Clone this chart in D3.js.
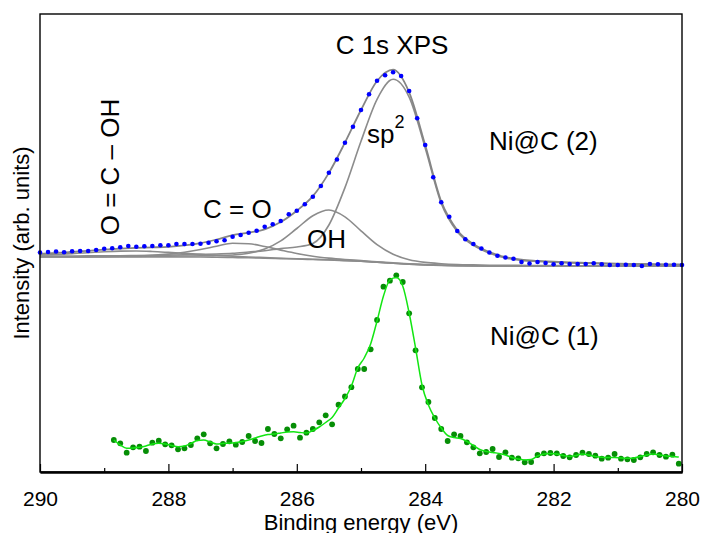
<!DOCTYPE html>
<html>
<head>
<meta charset="utf-8">
<script src="https://cdn.jsdelivr.net/npm/d3@7/dist/d3.min.js"></script>
<style>
  html, body { margin: 0; padding: 0; background: #fff; }
  svg { display: block; }
  text { font-family: "Liberation Sans", Arial, Helvetica, sans-serif; fill: #000; }
</style>
</head>
<body>
<svg id="chart" width="701" height="533"></svg>
<script>
// ---- Ni@C (2): measured C 1s points (binding energy, intensity in arb. units)
const ni2Energy = [290, 289.875, 289.75, 289.625, 289.5, 289.375, 289.25, 289.125, 289, 288.875,
  288.75, 288.625, 288.5, 288.375, 288.25, 288.125, 288, 287.875, 287.75, 287.625,
  287.5, 287.375, 287.25, 287.125, 287, 286.875, 286.75, 286.625, 286.5, 286.375,
  286.25, 286.125, 286, 285.875, 285.75, 285.625, 285.5, 285.375, 285.25, 285.125,
  285, 284.875, 284.75, 284.625, 284.5, 284.375, 284.25, 284.125, 284, 283.875,
  283.75, 283.625, 283.5, 283.375, 283.25, 283.125, 283, 282.875, 282.75, 282.625,
  282.5, 282.375, 282.25, 282.125, 282, 281.875, 281.75, 281.625, 281.5, 281.375,
  281.25, 281.125, 281, 280.875, 280.75, 280.625, 280.5, 280.375, 280.25, 280.125, 280];
const ni2Counts = [219.5, 220, 220.5, 219.7, 220.7, 221, 221, 222, 223.3, 223.7,
  224.7, 226, 225.3, 225.7, 226, 226.7, 226.7, 228, 228, 228,
  228.3, 229.3, 230.7, 231.7, 235.3, 237, 239.3, 241.3, 245.3, 247.7,
  251, 257.7, 261.3, 267.7, 275.3, 286, 299.3, 312.5, 329.3, 345.3,
  362, 377.7, 391.3, 396.7, 399.8, 396, 381, 353.7, 327, 294.7,
  269.7, 255.3, 241, 232.7, 228, 223.5, 219.5, 216.3, 214.5, 213.2,
  210, 208.5, 210, 209, 207.7, 208.7, 208, 208, 208, 208.7,
  207.7, 207, 207, 207.3, 207, 206, 208, 207.7, 207.3, 207.3, 207];

// ---- Ni@C (2): peak fit, sampled on a common energy grid
const fitEnergy = [290, 289.75, 289.5, 289.25, 289, 288.75, 288.5, 288.25, 288, 287.75,
  287.5, 287.25, 287, 286.75, 286.5, 286.25, 286, 285.75, 285.5, 285.25,
  285, 284.75, 284.5, 284.25, 284, 283.75, 283.5, 283.25, 283, 282.75,
  282.5, 282.25, 282, 281.75, 281.5, 281.25, 281, 280.75, 280.5, 280.25, 280];
// Shirley-type background
const background = [215, 215, 215, 215, 215, 215, 215, 215, 215, 215,
  215, 214.8, 214.5, 214.2, 213.8, 213.4, 213, 212.5, 212, 211.4,
  210.7, 209.7, 208.7, 207.8, 207.1, 206.6, 206.3, 206.1, 206, 206,
  206, 206, 206, 206, 206, 206, 206, 206, 206, 206, 206];
// component heights above the background
const peakSp2 = [0.8, 0.9, 1.0, 1.1, 1.2, 1.3, 1.5, 1.7, 1.9, 2.2,
  2.6, 3.2, 4.2, 5.8, 7.5, 10, 12, 16, 35, 73,
  120, 163, 184, 167, 117, 62, 34, 20.5, 12.8, 8,
  5.5, 4.5, 3.7, 3.1, 2.7, 2.3, 2.0, 1.8, 1.6, 1.4, 1.3];
const peakOH = [0.3, 0.3, 0.3, 0.4, 0.4, 0.5, 0.6, 0.7, 0.8, 1.0,
  1.2, 1.7, 2.5, 4.5, 9.1, 17.7, 30.5, 43.8, 50, 43.8,
  30.5, 17.7, 9.1, 4.5, 2.5, 1.7, 1.2, 1.0, 0.8, 0.7,
  0.6, 0.5, 0.4, 0.3, 0.3, 0.3, 0.2, 0.2, 0.2, 0.2, 0.2];
const peakCO = [0.2, 0.25, 0.3, 0.4, 0.5, 0.7, 1.0, 1.7, 2.9, 4.8,
  7.5, 11, 14.3, 14.1, 11.7, 8.5, 5.5, 3.3, 1.9, 1.1,
  0.7, 0.5, 0.4, 0.3, 0.25, 0.22, 0.2, 0.18, 0.16, 0.15,
  0.14, 0.13, 0.12, 0.11, 0.1, 0.1, 0.09, 0.09, 0.08, 0.08, 0.08];
const peakOCOH = [1.7, 2.5, 3.4, 4.3, 5.3, 5.9, 6.0, 5.5, 4.6, 3.6,
  2.6, 1.8, 1.3, 0.8, 0.6, 0.4, 0.3, 0.2, 0.2, 0.15,
  0.13, 0.12, 0.11, 0.1, 0.1, 0.1, 0.1, 0.09, 0.09, 0.08,
  0.08, 0.07, 0.07, 0.07, 0.06, 0.06, 0.06, 0.06, 0.05, 0.05, 0.05];
// cumulative fit envelope
const envelope = [218.0, 219.0, 220.0, 221.2, 222.4, 223.4, 224.1, 224.6, 225.2, 226.6,
  228.9, 232.5, 236.8, 239.4, 242.7, 250.0, 261.3, 275.8, 299.1, 329.4,
  362.0, 391.0, 402.3, 379.7, 326.9, 270.6, 241.8, 227.9, 219.8, 214.9,
  212.3, 211.2, 210.3, 209.6, 209.2, 208.8, 208.3, 208.1, 207.9, 207.7, 207.6];

// ---- Ni@C (1): measured points and smoothed trace
const ni1Energy = [288.85, 288.75, 288.65, 288.55, 288.45, 288.35, 288.25, 288.15, 288.05, 287.95,
  287.85, 287.75, 287.65, 287.55, 287.45, 287.35, 287.25, 287.15, 287.05, 286.95,
  286.85, 286.75, 286.65, 286.55, 286.45, 286.35, 286.25, 286.15, 286.05, 285.95,
  285.85, 285.75, 285.65, 285.55, 285.45, 285.35, 285.25, 285.15, 285.05, 284.95,
  284.85, 284.75, 284.65, 284.55, 284.45, 284.35, 284.25, 284.15, 284.05, 283.95,
  283.85, 283.75, 283.65, 283.55, 283.45, 283.35, 283.25, 283.15, 283.05, 282.95,
  282.85, 282.75, 282.65, 282.55, 282.45, 282.35, 282.25, 282.15, 282.05, 281.95,
  281.85, 281.75, 281.65, 281.55, 281.45, 281.35, 281.25, 281.15, 281.05, 280.95,
  280.85, 280.75, 280.65, 280.55, 280.45, 280.35, 280.25, 280.15, 280.05];
const ni1Counts = [32, 28.7, 19.3, 24.7, 25.3, 21, 29.3, 31.3, 27.7, 26.7,
  22.7, 23.7, 27, 33.7, 37.7, 28.7, 23.7, 28, 30.7, 27.3,
  30, 36, 31, 29, 43, 38, 33.7, 42.7, 46.3, 34.3,
  39.3, 43, 49.7, 56.7, 47.7, 67.3, 75.5, 84.8, 103, 103,
  122.7, 152, 185.3, 191.3, 196.7, 190, 158.7, 121.7, 84.7, 70,
  54, 43, 31, 37.7, 36, 29.7, 24.7, 18.7, 20, 23,
  15, 19.7, 14.3, 13.7, 9.7, 10, 17, 18.7, 19, 18.7,
  16, 14.7, 17, 19.3, 18, 16.3, 13.3, 14.3, 18, 13.3,
  12.7, 12, 14.7, 18, 19.7, 17, 15.3, 17.3, 8.3];
const ni1Smooth = [32, 27, 23.7, 24, 24.7, 26, 28, 28.7, 28, 26.5,
  25.3, 26, 28.5, 31.5, 32, 30, 28, 28.5, 29, 29.3,
  30.5, 32, 34, 36, 37.5, 38, 39, 40, 40.3, 39.5,
  39, 41.5, 45, 49.5, 54.5, 64, 73.5, 86, 104, 114,
  128, 151, 176, 192, 194.5, 186, 159, 124, 87, 67,
  54, 44, 36.5, 34.5, 33.5, 30.5, 26.5, 22.5, 20.5, 19.5,
  18.5, 17, 14.5, 13, 12, 12.5, 16, 18, 18.5, 18,
  16.5, 15.5, 16.5, 18, 17, 15.5, 14.7, 14.5, 14.5, 14,
  13.7, 14, 15.5, 17, 18, 17, 16, 15.5, 15];

// ---- axis ticks
const xMajorTicks = [290, 288, 286, 284, 282, 280];
const xMinorTicks = [289, 287, 285, 283, 281];

// ---- layout
const plot = { left: 40, right: 682, top: 14, bottom: 472 };
const svg = d3.select("#chart");

const x = d3.scaleLinear().domain([290, 280]).range([plot.left, plot.right]);
const y = d3.scaleLinear().domain([0, 458]).range([plot.bottom, plot.top]);

const lineGen = d3.line()
  .x(d => x(d[0]))
  .y(d => y(d[1]))
  .curve(d3.curveMonotoneX);

const fitGroup = svg.append("g").attr("class", "fit");

// background and components (each sits on the background)
const components = [peakOCOH, peakCO, peakOH, peakSp2];
fitGroup.append("path")
  .datum(fitEnergy.map((e, i) => [e, background[i]]))
  .attr("d", lineGen)
  .attr("fill", "none").attr("stroke", "#8c8c8c").attr("stroke-width", 1.6);
components.forEach(comp => {
  fitGroup.append("path")
    .datum(fitEnergy.map((e, i) => [e, background[i] + comp[i]]))
    .attr("d", lineGen)
    .attr("fill", "none").attr("stroke", "#8c8c8c").attr("stroke-width", 1.6);
});
fitGroup.append("path")
  .datum(fitEnergy.map((e, i) => [e, envelope[i]]))
  .attr("d", lineGen)
  .attr("fill", "none").attr("stroke", "#858585").attr("stroke-width", 1.8);

// Ni@C (2) points
svg.append("g").selectAll("circle")
  .data(ni2Energy.map((e, i) => [e, ni2Counts[i]]))
  .join("circle")
  .attr("cx", d => x(d[0]))
  .attr("cy", d => y(d[1]))
  .attr("r", 2.3)
  .attr("fill", "#0000ff");

// Ni@C (1) points and smoothed trace
svg.append("g").selectAll("circle")
  .data(ni1Energy.map((e, i) => [e, ni1Counts[i]]))
  .join("circle")
  .attr("cx", d => x(d[0]))
  .attr("cy", d => y(d[1]))
  .attr("r", 2.9)
  .attr("fill", "#068e06");
svg.append("path")
  .datum(ni1Energy.map((e, i) => [e, ni1Smooth[i]]))
  .attr("d", lineGen)
  .attr("fill", "none").attr("stroke", "#12e612").attr("stroke-width", 1.5);

// frame
svg.append("rect")
  .attr("x", plot.left).attr("y", plot.top)
  .attr("width", plot.right - plot.left).attr("height", plot.bottom - plot.top)
  .attr("fill", "none").attr("stroke", "#000").attr("stroke-width", 1.4);

// bottom axis: inward ticks
const axisG = svg.append("g").attr("transform", `translate(0,${plot.bottom})`);
axisG.call(d3.axisBottom(x).tickValues(xMajorTicks).tickSize(-8).tickSizeOuter(0)
  .tickPadding(19).tickFormat(d3.format("d")));
const minorG = svg.append("g").attr("transform", `translate(0,${plot.bottom})`);
minorG.call(d3.axisBottom(x).tickValues(xMinorTicks).tickSize(-4).tickSizeOuter(0).tickFormat(""));
[axisG, minorG].forEach(g => {
  g.select(".domain").attr("stroke", "#000").attr("stroke-width", 1.8);
  g.selectAll(".tick line").attr("stroke", "#000").attr("stroke-width", 1.2);
});
axisG.selectAll(".tick text")
  .style("font-family", '"Liberation Sans", Arial, sans-serif')
  .style("font-size", "21px").attr("fill", "#000");

// axis titles
svg.append("text")
  .attr("x", (plot.left + plot.right) / 2).attr("y", 530)
  .attr("text-anchor", "middle").style("font-size", "22px")
  .text("Binding energy (eV)");
svg.append("text")
  .attr("transform", "translate(29,243) rotate(-90)")
  .attr("text-anchor", "middle").style("font-size", "22px")
  .text("Intensity (arb. units)");

// annotations
const note = (txt, xx, yy, anchor) => svg.append("text")
  .attr("x", xx).attr("y", yy).attr("text-anchor", anchor || "start")
  .style("font-size", "26px").text(txt);

note("C 1s XPS", 392, 54, "middle");
note("C = O", 203, 218);
note("OH", 307, 248);
note("Ni@C (2)", 489, 150);
note("Ni@C (1)", 490, 345);

const sp = svg.append("text").attr("x", 367).attr("y", 143).style("font-size", "26px");
sp.append("tspan").text("sp");
sp.append("tspan").attr("dy", -15).style("font-size", "18px").text("2");

svg.append("text")
  .attr("transform", "translate(119,167) rotate(-90)")
  .attr("text-anchor", "middle").style("font-size", "26px")
  .text("O = C \u2013 OH");
</script>
</body>
</html>
